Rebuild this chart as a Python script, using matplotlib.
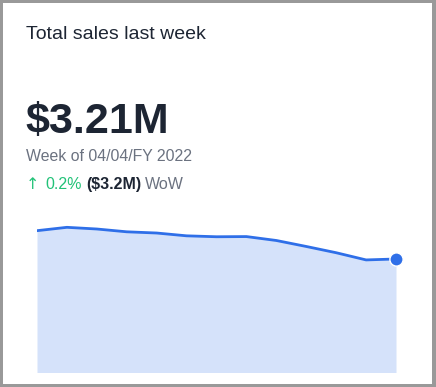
import matplotlib
matplotlib.use('Agg')
import matplotlib.pyplot as plt
from matplotlib.patches import Rectangle

# 数据（单位：百万美元）
weeks = list(range(13))
sales = [3.513, 3.549, 3.531, 3.501, 3.488, 3.458, 3.448, 3.450, 3.408, 3.344, 3.277, 3.20, 3.21]

title = 'Total sales last week'
big_value = '$3.21M'
subtitle = 'Week of 04/04/FY 2022'
change_arrow = '↑'
change_pct = '0.2%'
change_abs = '($3.2M)'
change_lbl = 'WoW'

W, H = 436, 387
plt.rcParams['font.family'] = ['Liberation Sans', 'DejaVu Sans']

fig = plt.figure(figsize=(W / 100, H / 100), dpi=100)
fig.patch.set_facecolor('#999999')

# 卡片白色背景
fig.add_artist(Rectangle((3 / W, 3 / H), (W - 7) / W, (H - 6) / H, zorder=-5,
                         transform=fig.transFigure, facecolor='white', edgecolor='none'))

def fx(x):
    return x / W

def fy(y):
    return 1 - y / H

dark = '#1d2533'
gray = '#6b7280'
green = '#22c278'

fig.text(fx(26), fy(39), title, fontsize=14, color=dark, va='baseline')
fig.text(fx(25), fy(133), big_value, fontsize=31, fontweight='bold', color=dark, va='baseline')
fig.text(fx(26), fy(161), subtitle, fontsize=11.4, color=gray, va='baseline')

# 第三行：分段不同颜色
fig.canvas.draw()
r = fig.canvas.get_renderer()
x = 26
pieces = [(change_arrow, green, 'normal', 'DejaVu Sans', 6),
          (change_pct, green, 'normal', 'Liberation Sans', 4),
          (change_abs, dark, 'bold', 'Liberation Sans', 4),
          (change_lbl, gray, 'normal', 'Liberation Sans', 0)]
for txt, col, wt, fam, gap in pieces:
    t = fig.text(fx(x), fy(189), txt, fontsize=11.5, color=col, fontweight=wt,
                 family=fam, va='baseline')
    bb = t.get_window_extent(renderer=r)
    x += bb.width + gap

# 面积图
ax = fig.add_axes([fx(37), 15 / H, (396 - 37) / W, 152 / H])
ax.fill_between(weeks, sales, 0, color='#d5e2fa', linewidth=0)
ax.plot(weeks, sales, color='#2f6fe8', linewidth=2, solid_capstyle='round')
ax.plot(weeks[-1], sales[-1], 'o', color='#2f6fe8', markersize=9.5,
        markeredgecolor='white', markeredgewidth=1, clip_on=False)
ax.set_xlim(weeks[0], weeks[-1])
ax.set_ylim(2.0, 2.0 + 152 / 93.4)
ax.axis('off')

fig.savefig('out.png', dpi=100, facecolor=fig.get_facecolor())
